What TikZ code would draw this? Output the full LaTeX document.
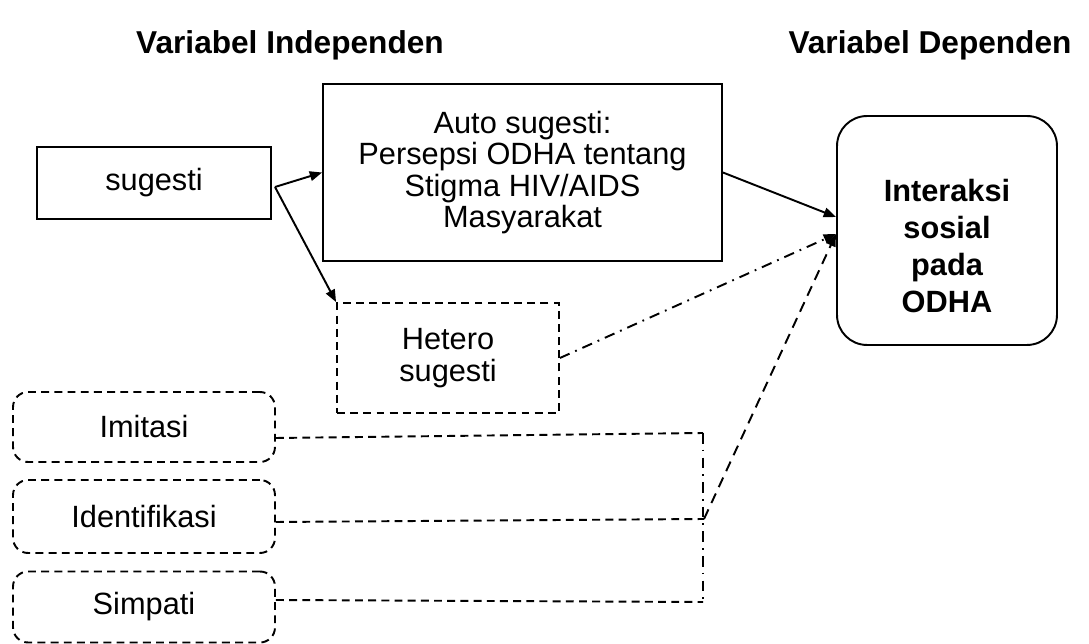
\documentclass[tikz,border=0pt]{standalone}
\usepackage{fontspec}
\setmainfont{Liberation Sans}
\usetikzlibrary{arrows.meta}
\begin{document}
\begin{tikzpicture}[x=0.02cm, y=-0.02cm, line width=1.1pt,
   box/.style={draw, align=center, inner sep=0pt, font=\fontsize{17.5}{18}\selectfont},
   dashbox/.style={box, dash pattern=on 4.5pt off 3pt},
   softbox/.style={dashbox, rounded corners=0.3cm},
   tip/.style={-{Triangle[length=7pt, width=5.5pt]}},
   dashdot/.style={dash pattern=on 6pt off 3.5pt on 1pt off 3.5pt}]
   \useasboundingbox (0,0) rectangle (1089,644);
   % headings
   \node (indep) at (290,45) {\fontsize{18}{18}\selectfont\bfseries Variabel Independen};
   \node (dep) at (930,45) {\fontsize{18}{18}\selectfont\bfseries Variabel Dependen};
   % boxes
   \node (sug) [box, minimum width=4.68cm, minimum height=1.44cm] at (154,183) {sugesti};
   \node (auto) [box, minimum width=7.98cm, minimum height=3.54cm] at (522.5,172.5) {Auto sugesti:\\Persepsi ODHA tentang\\Stigma HIV/AIDS\\Masyarakat};
   \node (hetero) [dashbox, minimum width=4.44cm, minimum height=2.2cm] at (448,358) {Hetero\\sugesti};
   \node (inter) [draw, rounded corners=0.6cm, minimum width=4.4cm, minimum height=4.58cm] at (947,230.5) {};
   \node (intertext) [align=center, font=\fontsize{17.5}{21}\selectfont\bfseries] at (947,246) {Interaksi\\sosial\\pada\\ODHA};
   \node (imit) [softbox, minimum width=5.24cm, minimum height=1.4cm] at (144,427) {Imitasi};
   \node (ident) [softbox, minimum width=5.24cm, minimum height=1.46cm] at (144,516.5) {Identifikasi};
   \node (simp) [softbox, minimum width=5.24cm, minimum height=1.42cm] at (144,607) {Simpati};
   % connectors
   \coordinate (split) at (275,187);
   \coordinate (tipA) at (836,217);
   \coordinate (tipB) at (836,234);
   \coordinate (jtop) at (703,433);
   \coordinate (jmid) at (704,519);
   \coordinate (jbot) at (703,602);
   \draw [tip] (split) -- (auto.west);
   \draw [tip] (split) -- (hetero.north west);
   \draw [tip] (auto.east) -- (tipA);
   \draw [tip, dashdot] (hetero.east) -- (tipB);
   \draw [dash pattern=on 4.5pt off 3pt] ([yshift=-0.22cm]imit.east) -- (jtop);
   \draw [dash pattern=on 4.5pt off 3pt] ([yshift=-0.11cm]ident.east) -- (jmid);
   \draw [dash pattern=on 4.5pt off 3pt] ([yshift=0.14cm]simp.east) -- (jbot);
   \draw [dashdot] (jtop) -- (jbot);
   \draw [tip, dash pattern=on 6pt off 4pt] (jmid) -- (tipB);
\end{tikzpicture}
\end{document}
